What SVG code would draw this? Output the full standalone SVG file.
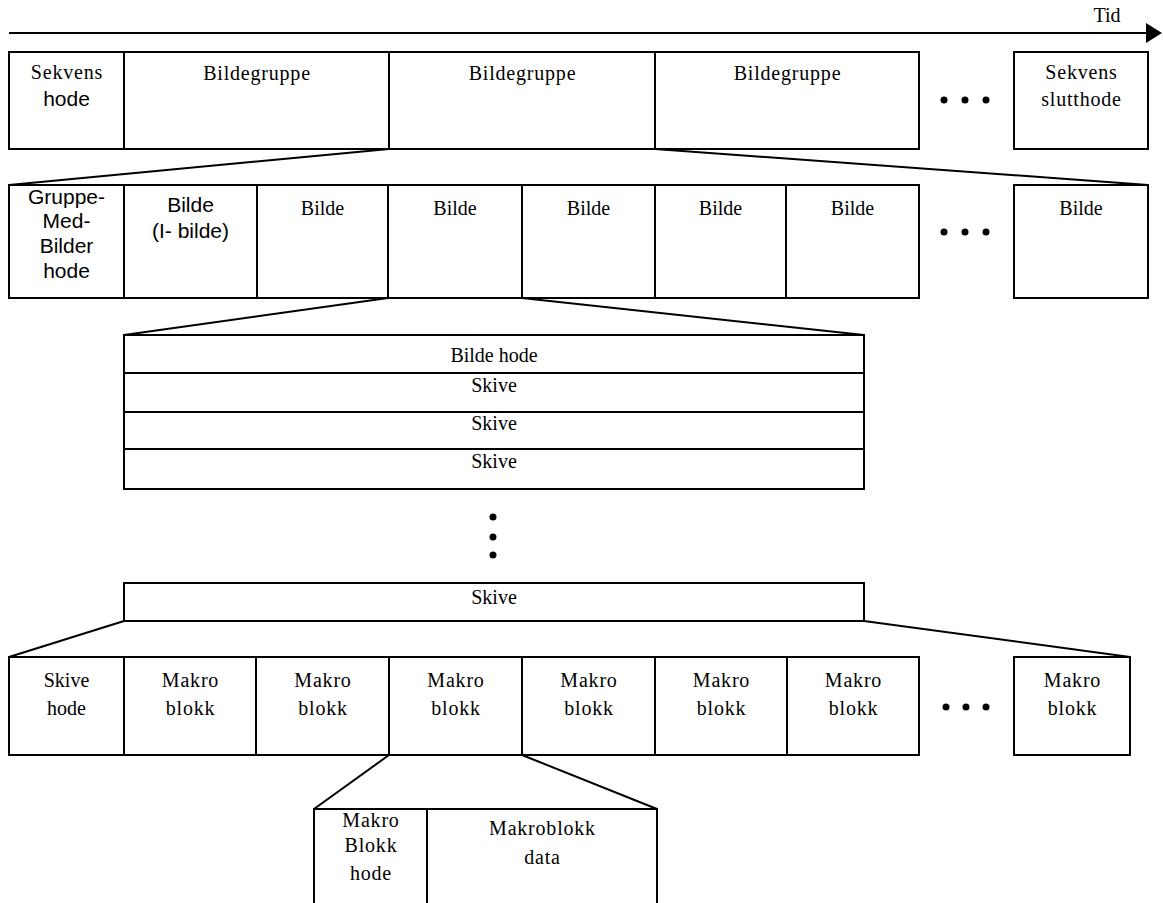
<svg xmlns="http://www.w3.org/2000/svg" width="1163" height="903" viewBox="0 0 1163 903">
<style>
.b{fill:#fff;stroke:#000;stroke-width:2}
.l{stroke:#000;stroke-width:2;fill:none}
.t{font-family:"Liberation Serif","Times New Roman",serif;font-size:20px;text-anchor:middle;fill:#000}
.s{letter-spacing:0.8px}
.a{font-family:"Liberation Sans",Arial,sans-serif;font-size:21px;text-anchor:middle;fill:#000}
.d{fill:#000}
</style>
<rect width="1163" height="903" fill="#fff"/>
<g id="time-axis">
<line class="l" x1="9" y1="33" x2="1148" y2="33"/>
<polygon class="d" points="1146,23 1162,33 1146,43"/>
<text class="t" x="1107" y="22">Tid</text>
</g>
<g id="connectors">
<line class="l" x1="389" y1="149" x2="9" y2="185"/>
<line class="l" x1="655" y1="149" x2="1148" y2="185"/>
<line class="l" x1="388" y1="298" x2="124" y2="335"/>
<line class="l" x1="522" y1="298" x2="864" y2="335"/>
<line class="l" x1="124" y1="621" x2="9" y2="657"/>
<line class="l" x1="864" y1="621" x2="1130" y2="657"/>
<line class="l" x1="389" y1="755" x2="314" y2="809"/>
<line class="l" x1="522" y1="755" x2="657" y2="809"/>
</g>
<g id="row1-sekvens-hode">
<rect class="b" x="9" y="52" width="115" height="97"/>
<text class="t s" x="67" y="79">Sekvens</text>
<text class="a" x="66.5" y="106">hode</text>
</g>
<g id="row1-bildegruppe-1">
<rect class="b" x="124" y="52" width="265" height="97"/>
<text class="t s" x="257" y="80">Bildegruppe</text>
</g>
<g id="row1-bildegruppe-2">
<rect class="b" x="389" y="52" width="266" height="97"/>
<text class="t s" x="522.5" y="80">Bildegruppe</text>
</g>
<g id="row1-bildegruppe-3">
<rect class="b" x="655" y="52" width="264" height="97"/>
<text class="t s" x="787.5" y="80">Bildegruppe</text>
</g>
<g id="row1-dots">
<circle class="d" cx="944" cy="100" r="3.5"/>
<circle class="d" cx="965" cy="100" r="3.5"/>
<circle class="d" cx="986" cy="100" r="3.5"/>
</g>
<g id="row1-sekvens-slutthode">
<rect class="b" x="1014" y="52" width="134" height="97"/>
<text class="t s" x="1081.5" y="79">Sekvens</text>
<text class="t s" x="1081.5" y="106">slutthode</text>
</g>
<g id="row2-gmb-hode">
<rect class="b" x="9" y="185" width="115" height="113"/>
<text class="a" x="66.5" y="204">Gruppe-</text>
<text class="a" x="66.5" y="228">Med-</text>
<text class="a" x="66.5" y="253">Bilder</text>
<text class="a" x="66.5" y="278">hode</text>
</g>
<g id="row2-ibilde">
<rect class="b" x="124" y="185" width="133" height="113"/>
<text class="a" x="190.5" y="212">Bilde</text>
<text class="a" x="190.5" y="238">(I- bilde)</text>
</g>
<g id="row2-bilde-2">
<rect class="b" x="257" y="185" width="131" height="113"/>
<text class="t" x="322.5" y="215">Bilde</text>
</g>
<g id="row2-bilde-3">
<rect class="b" x="388" y="185" width="134" height="113"/>
<text class="t" x="455" y="215">Bilde</text>
</g>
<g id="row2-bilde-4">
<rect class="b" x="522" y="185" width="133" height="113"/>
<text class="t" x="588.5" y="215">Bilde</text>
</g>
<g id="row2-bilde-5">
<rect class="b" x="655" y="185" width="131" height="113"/>
<text class="t" x="720.5" y="215">Bilde</text>
</g>
<g id="row2-bilde-6">
<rect class="b" x="786" y="185" width="133" height="113"/>
<text class="t" x="852.5" y="215">Bilde</text>
</g>
<g id="row2-dots">
<circle class="d" cx="944" cy="232" r="3.5"/>
<circle class="d" cx="965" cy="232" r="3.5"/>
<circle class="d" cx="986" cy="232" r="3.5"/>
</g>
<g id="row2-bilde-last">
<rect class="b" x="1014" y="185" width="134" height="113"/>
<text class="t" x="1081" y="215">Bilde</text>
</g>
<g id="bilde-hode">
<rect class="b" x="124" y="335" width="740" height="38"/>
<text class="t" x="494" y="362">Bilde hode</text>
</g>
<g id="skive-1">
<rect class="b" x="124" y="373" width="740" height="39"/>
<text class="t" x="494" y="392">Skive</text>
</g>
<g id="skive-2">
<rect class="b" x="124" y="412" width="740" height="37"/>
<text class="t" x="494" y="430">Skive</text>
</g>
<g id="skive-3">
<rect class="b" x="124" y="449" width="740" height="40"/>
<text class="t" x="494" y="468">Skive</text>
</g>
<g id="vertical-dots">
<circle class="d" cx="493" cy="517" r="3.5"/>
<circle class="d" cx="493" cy="537" r="3.5"/>
<circle class="d" cx="493" cy="555" r="3.5"/>
</g>
<g id="skive-last">
<rect class="b" x="124" y="583" width="740" height="38"/>
<text class="t" x="494" y="604">Skive</text>
</g>
<g id="row4-skive-hode">
<rect class="b" x="9" y="657" width="115" height="98"/>
<text class="t" x="66.5" y="687">Skive</text>
<text class="t" x="66.5" y="715">hode</text>
</g>
<g id="row4-mb-1">
<rect class="b" x="124" y="657" width="132" height="98"/>
<text class="t s" x="190.5" y="687">Makro</text>
<text class="t s" x="190.5" y="715">blokk</text>
</g>
<g id="row4-mb-2">
<rect class="b" x="256" y="657" width="133" height="98"/>
<text class="t s" x="323" y="687">Makro</text>
<text class="t s" x="323" y="715">blokk</text>
</g>
<g id="row4-mb-3">
<rect class="b" x="389" y="657" width="133" height="98"/>
<text class="t s" x="456" y="687">Makro</text>
<text class="t s" x="456" y="715">blokk</text>
</g>
<g id="row4-mb-4">
<rect class="b" x="522" y="657" width="133" height="98"/>
<text class="t s" x="589" y="687">Makro</text>
<text class="t s" x="589" y="715">blokk</text>
</g>
<g id="row4-mb-5">
<rect class="b" x="655" y="657" width="132" height="98"/>
<text class="t s" x="721.5" y="687">Makro</text>
<text class="t s" x="721.5" y="715">blokk</text>
</g>
<g id="row4-mb-6">
<rect class="b" x="787" y="657" width="132" height="98"/>
<text class="t s" x="853.5" y="687">Makro</text>
<text class="t s" x="853.5" y="715">blokk</text>
</g>
<g id="row4-dots">
<circle class="d" cx="946" cy="707" r="3.5"/>
<circle class="d" cx="966" cy="707" r="3.5"/>
<circle class="d" cx="986" cy="707" r="3.5"/>
</g>
<g id="row4-mb-last">
<rect class="b" x="1014" y="657" width="116" height="98"/>
<text class="t s" x="1072.5" y="687">Makro</text>
<text class="t s" x="1072.5" y="715">blokk</text>
</g>
<g id="mb-hode">
<rect class="b" x="314" y="809" width="113" height="110"/>
<text class="t s" x="371" y="827">Makro</text>
<text class="t s" x="371" y="852">Blokk</text>
<text class="t s" x="371" y="880">hode</text>
</g>
<g id="mb-data">
<rect class="b" x="427" y="809" width="230" height="110"/>
<text class="t s" x="542.5" y="835">Makroblokk</text>
<text class="t s" x="542.5" y="864">data</text>
</g>
</svg>
